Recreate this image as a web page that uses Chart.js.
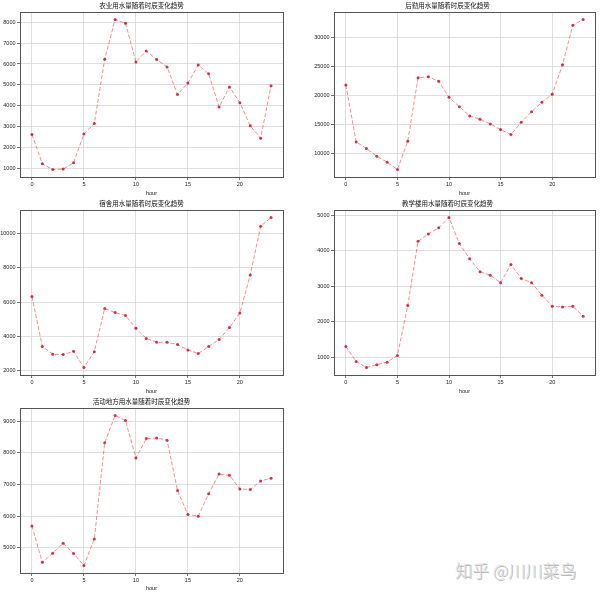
<!DOCTYPE html>
<html>
<head>
<meta charset="utf-8">
<script src="https://cdn.jsdelivr.net/npm/chart.js@4.4.0/dist/chart.umd.min.js"></script>
<style>
  body { margin: 0; background: #fff; width: 600px; height: 592px; position: relative; overflow: hidden; }
  .panel { position: absolute; }
  #mark {
    position: absolute; left: 455px; top: 557px;
    font-family: "Noto Sans CJK SC", sans-serif; font-size: 17px; font-weight: 300;
    color: #dcdcdc; text-shadow: 1px 1px 0 #b0b0b0; white-space: nowrap;
  }
</style>
</head>
<body>
<div class="panel" style="left:0px;top:0px"><canvas id="c1" width="288" height="197"></canvas></div>
<div class="panel" style="left:300px;top:0px"><canvas id="c2" width="300" height="197"></canvas></div>
<div class="panel" style="left:0px;top:198px"><canvas id="c3" width="288" height="197"></canvas></div>
<div class="panel" style="left:300px;top:198px"><canvas id="c4" width="300" height="197"></canvas></div>
<div class="panel" style="left:0px;top:396px"><canvas id="c5" width="288" height="196"></canvas></div>
<div id="mark">知乎 @川川菜鸟</div>
<script>
// hours 0..23
var horas = [0,1,2,3,4,5,6,7,8,9,10,11,12,13,14,15,16,17,18,19,20,21,22,23];
var xTicks = [0, 5, 10, 15, 20];

var nongye = [2630,1220,950,970,1270,2650,3150,6230,8130,7950,6100,6620,6210,5860,4540,5090,5950,5530,3940,4900,4150,3040,2450,4960];
var houqin = [21750,11950,10800,9480,8450,7190,12060,23000,23180,22380,19630,18020,16420,15850,15040,14070,13210,15330,17160,18770,20140,25240,32060,33040];
var sushe = [6320,3390,2940,2920,3110,2160,3090,5620,5380,5210,4460,3860,3640,3640,3510,3190,2980,3390,3800,4500,5360,7590,10450,10960];
var jiaoxue = [1310,890,720,800,870,1060,2460,4260,4470,4640,4930,4200,3770,3410,3310,3100,3610,3220,3100,2750,2440,2420,2440,2160];
var huodong = [5690,4540,4830,5140,4820,4440,5280,8320,9180,9020,7840,8450,8470,8400,6810,6050,6000,6710,7330,7290,6860,6840,7110,7200];

var yTicks1 = [1000,2000,3000,4000,5000,6000,7000,8000];
var yTicks2 = [10000,15000,20000,25000,30000];
var yTicks3 = [2000,4000,6000,8000,10000];
var yTicks4 = [1000,2000,3000,4000,5000];
var yTicks5 = [5000,6000,7000,8000,9000];

var titulos = ['农业用水量随着时辰变化趋势','后勤用水量随着时辰变化趋势','宿舍用水量随着时辰变化趋势','教学楼用水量随着时辰变化趋势','活动地方用水量随着时辰变化趋势'];

// marco alrededor del area (estilo matplotlib)
var marco = {
    id: 'marco',
    afterDraw: function (chart) {
        var a = chart.chartArea, c = chart.ctx;
        c.save();
        c.strokeStyle = '#555';
        c.lineWidth = 1;
        c.strokeRect(Math.round(a.left) + 0.5, Math.round(a.top) + 0.5, Math.round(a.right - a.left), Math.round(a.bottom - a.top));
        c.restore();
    }
};

function sinComas(v) { return String(v); }

function construirGrafica(id, titulo, datos, yTicks, anchoY, altoX) {
    var lo = Math.min.apply(null, datos), hi = Math.max.apply(null, datos);
    var m = (hi - lo) * 0.05;
    var puntos = horas.map(function (h, i) { return {x: h, y: datos[i]}; });
    return new Chart(document.getElementById(id).getContext('2d'), {
        type: 'line',
        data: {
            datasets: [{
                data: puntos,
                borderColor: 'rgba(255,60,60,0.6)',
                borderWidth: 1,
                borderDash: [4, 2],
                pointRadius: 1.5,
                pointBackgroundColor: 'rgba(200,20,50,0.85)',
                pointBorderWidth: 0,
                tension: 0
            }]
        },
        options: {
            responsive: false,
            animation: false,
            layout: { padding: { left: 0, right: 5, top: 0, bottom: 0 } },
            plugins: {
                legend: { display: false },
                tooltip: { enabled: false },
                title: {
                    display: true,
                    text: titulo,
                    color: '#111',
                    font: { family: '"Noto Sans CJK SC", sans-serif', size: 6.5, lineHeight: 12 / 6.5, weight: 'normal' },
                    padding: 0
                }
            },
            scales: {
                x: {
                    type: 'linear',
                    min: -1.15, max: 24.15,
                    afterBuildTicks: function (s) { s.ticks = xTicks.map(function (v) { return {value: v}; }); },
                    afterFit: function (s) { s.height = altoX; },
                    grid: { color: '#d6d6d6', lineWidth: 0.8, tickLength: 3, tickColor: '#555' },
                    border: { display: false },
                    ticks: { color: '#222', font: { family: 'Liberation Sans', size: 5.5 }, padding: 1, maxRotation: 0, callback: sinComas },
                    title: { display: true, text: 'hour', color: '#222', font: { family: 'Liberation Sans', size: 5.5 }, padding: 0 }
                },
                y: {
                    min: lo - m, max: hi + m,
                    afterBuildTicks: function (s) { s.ticks = yTicks.map(function (v) { return {value: v}; }); },
                    afterFit: function (s) { s.width = anchoY; },
                    grid: { color: '#d6d6d6', lineWidth: 0.8, tickLength: 3, tickColor: '#555' },
                    border: { display: false },
                    ticks: { color: '#222', font: { family: 'Liberation Sans', size: 5.5 }, padding: 1.5, callback: sinComas }
                }
            }
        },
        plugins: [marco]
    });
}

construirGrafica('c1', titulos[0], nongye, yTicks1, 20, 20);
construirGrafica('c2', titulos[1], houqin, yTicks2, 34, 20);
construirGrafica('c3', titulos[2], sushe, yTicks3, 20, 20);
construirGrafica('c4', titulos[3], jiaoxue, yTicks4, 34, 20);
construirGrafica('c5', titulos[4], huodong, yTicks5, 20, 19);
</script>
</body>
</html>
